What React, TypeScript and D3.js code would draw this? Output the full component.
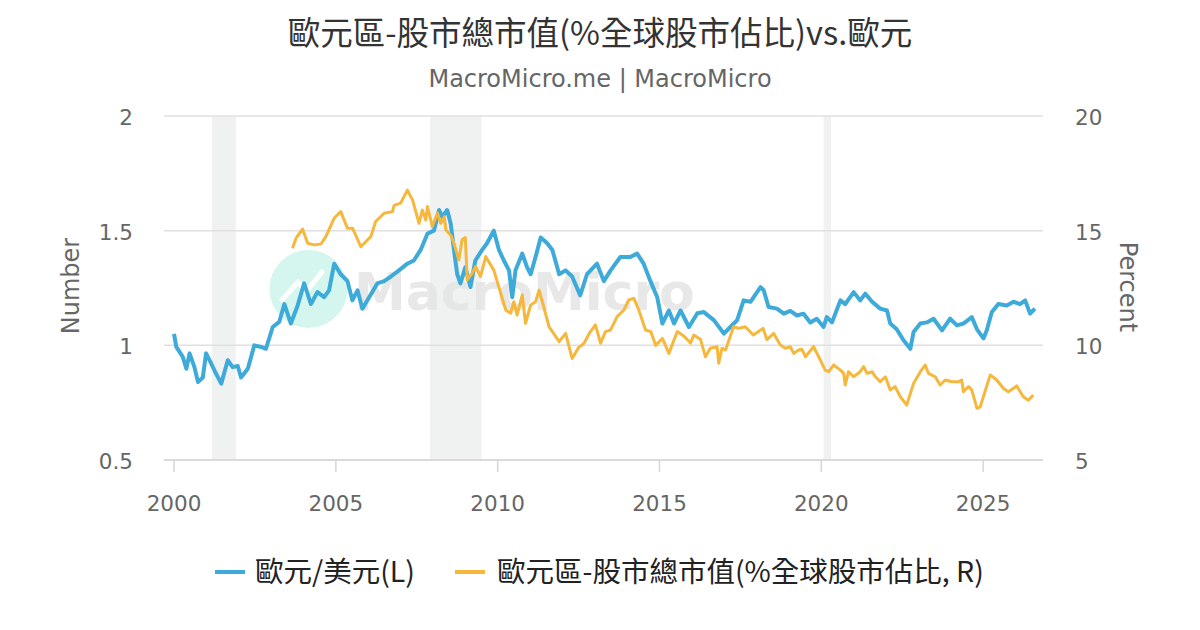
import React from "react";
import * as d3 from "d3";

const W = 1200, H = 630;
const M = { left: 164, right: 1043, top: 116, bottom: 460 };

const fxYears = [2000.0,2000.07,2000.27,2000.38,2000.48,2000.63,2000.74,2000.89,2000.99,2001.15,2001.3,2001.46,2001.66,2001.81,2001.97,2002.07,2002.28,2002.48,2002.69,2002.84,2003.05,2003.25,2003.41,2003.61,2003.82,2004.02,2004.23,2004.43,2004.64,2004.79,2004.95,2005.15,2005.36,2005.51,2005.67,2005.82,2006.03,2006.28,2006.49,2006.7,2006.95,2007.21,2007.41,2007.62,2007.83,2008.03,2008.19,2008.29,2008.44,2008.55,2008.65,2008.75,2008.85,2009.0,2009.16,2009.31,2009.52,2009.67,2009.88,2010.04,2010.19,2010.35,2010.45,2010.55,2010.76,2010.91,2011.02,2011.17,2011.33,2011.53,2011.69,2011.9,2012.1,2012.3,2012.55,2012.76,2013.07,2013.28,2013.49,2013.79,2014.1,2014.31,2014.51,2014.72,2014.93,2015.09,2015.29,2015.45,2015.65,2015.91,2016.17,2016.37,2016.68,2016.99,2017.19,2017.4,2017.6,2017.81,2018.12,2018.22,2018.37,2018.63,2018.84,2019.04,2019.25,2019.45,2019.66,2019.86,2020.07,2020.17,2020.33,2020.59,2020.74,2021.0,2021.2,2021.36,2021.57,2021.82,2022.03,2022.13,2022.33,2022.54,2022.75,2022.85,2023.06,2023.26,2023.47,2023.73,2023.98,2024.19,2024.39,2024.65,2024.81,2025.01,2025.11,2025.27,2025.47,2025.73,2025.94,2026.14,2026.3,2026.45,2026.6];
const fxValues = [1.05,0.993,0.95,0.898,0.965,0.905,0.84,0.86,0.965,0.92,0.876,0.833,0.935,0.905,0.91,0.86,0.898,1.0,0.993,0.985,1.08,1.102,1.18,1.095,1.174,1.27,1.18,1.232,1.21,1.24,1.356,1.31,1.28,1.196,1.24,1.16,1.21,1.27,1.28,1.3,1.327,1.356,1.37,1.416,1.487,1.5,1.59,1.56,1.59,1.53,1.416,1.31,1.27,1.34,1.254,1.37,1.416,1.445,1.5,1.416,1.37,1.327,1.21,1.327,1.4,1.34,1.31,1.385,1.47,1.445,1.416,1.31,1.327,1.3,1.218,1.31,1.356,1.28,1.327,1.385,1.385,1.4,1.356,1.28,1.21,1.095,1.152,1.095,1.152,1.08,1.14,1.145,1.11,1.051,1.08,1.11,1.196,1.19,1.254,1.24,1.167,1.16,1.138,1.15,1.13,1.138,1.1,1.116,1.08,1.123,1.1,1.196,1.18,1.232,1.196,1.225,1.19,1.16,1.152,1.095,1.07,1.022,0.985,1.058,1.095,1.1,1.116,1.065,1.116,1.087,1.095,1.123,1.07,1.03,1.065,1.145,1.18,1.174,1.19,1.18,1.196,1.138,1.16];

const mcYears = [2003.66,2003.77,2003.97,2004.13,2004.33,2004.54,2004.69,2004.95,2005.15,2005.36,2005.52,2005.77,2006.08,2006.23,2006.49,2006.75,2006.8,2007.0,2007.21,2007.37,2007.57,2007.67,2007.78,2007.83,2007.98,2008.14,2008.24,2008.35,2008.4,2008.55,2008.65,2008.8,2008.9,2009.0,2009.06,2009.21,2009.32,2009.47,2009.63,2009.88,2010.25,2010.4,2010.5,2010.6,2010.76,2010.86,2011.02,2011.17,2011.28,2011.38,2011.59,2011.69,2011.9,2012.1,2012.3,2012.5,2012.67,2012.83,2013.02,2013.18,2013.33,2013.49,2013.69,2013.9,2014.05,2014.21,2014.36,2014.57,2014.73,2014.88,2015.09,2015.29,2015.55,2015.76,2015.96,2016.06,2016.27,2016.42,2016.57,2016.78,2016.83,2016.93,2017.04,2017.29,2017.45,2017.65,2017.9,2018.2,2018.32,2018.53,2018.73,2018.89,2019.04,2019.15,2019.3,2019.4,2019.51,2019.76,2019.92,2020.12,2020.23,2020.38,2020.59,2020.69,2020.74,2020.84,2021.0,2021.2,2021.31,2021.41,2021.57,2021.67,2021.82,2021.98,2022.13,2022.28,2022.44,2022.64,2022.85,2023.06,2023.21,2023.31,2023.52,2023.67,2023.83,2024.03,2024.24,2024.34,2024.39,2024.55,2024.65,2024.81,2024.91,2025.22,2025.42,2025.63,2025.78,2026.04,2026.24,2026.4,2026.55];
const mcValues = [14.23,14.67,15.07,14.45,14.38,14.42,14.74,15.55,15.83,15.1,15.1,14.3,14.74,15.4,15.76,15.83,16.1,16.2,16.77,16.34,15.32,15.9,15.46,16.05,15.18,15.76,15.32,15.6,15.03,14.8,14.45,13.72,14.6,14.7,12.85,13.14,13.43,13.0,13.87,13.28,11.54,11.4,11.9,11.32,12.2,10.96,11.76,11.9,12.41,11.9,10.8,10.6,10.16,10.52,9.43,9.9,10.09,10.52,10.89,10.09,10.6,10.67,11.25,11.54,11.98,12.05,11.54,10.67,10.6,10.0,10.3,9.65,10.6,10.4,10.1,10.45,10.25,9.5,9.87,9.94,9.22,9.87,9.8,10.81,10.74,10.81,10.45,10.74,10.25,10.52,10.02,9.87,9.94,9.65,9.8,9.83,9.5,9.94,9.5,8.92,8.85,9.14,8.92,8.78,8.27,8.85,8.63,8.85,9.07,8.78,8.85,8.63,8.41,8.63,8.05,8.2,7.76,7.4,8.34,8.85,9.14,8.78,8.63,8.27,8.49,8.41,8.41,8.49,7.98,8.2,8.05,7.25,7.32,8.71,8.49,8.12,7.98,8.23,7.76,7.61,7.83];

const recessionStart = [2001.17, 2007.91, 2020.07];
const recessionEnd = [2001.91, 2009.5, 2020.3];

const xTicks = [2000, 2005, 2010, 2015, 2020, 2025];
const leftTicks = [0.5, 1, 1.5, 2];
const rightTicks = [5, 10, 15, 20];

const title = "歐元區-股市總市值(%全球股市佔比)vs.歐元";
const subtitle = "MacroMicro.me | MacroMicro";
const seriesNames = ["歐元/美元(L)", "歐元區-股市總市值(%全球股市佔比, R)"];
const colors = ["#3daad9", "#f5b83d"];

const CJK = "'Noto Sans CJK TC', 'Noto Sans', sans-serif";
const TICKF = "'DejaVu Sans', sans-serif";

export default function App() {
  const x = d3.scaleLinear().domain([1999.69, 2026.85]).range([M.left, M.right]);
  const yL = d3.scaleLinear().domain([0.5, 2]).range([M.bottom, M.top]);
  const yR = d3.scaleLinear().domain([5, 20]).range([M.bottom, M.top]);

  const fx = fxYears.map((t, i) => [t, fxValues[i]] as [number, number]);
  const mc = mcYears.map((t, i) => [t, mcValues[i]] as [number, number]);
  const lineL = d3.line<[number, number]>().x(d => x(d[0])).y(d => yL(d[1]));
  const lineR = d3.line<[number, number]>().x(d => x(d[0])).y(d => yR(d[1]));

  return (
    <svg width={W} height={H} style={{ display: "block", position: "absolute", left: 0, top: 0 }}>
      <rect width={W} height={H} fill="#fff" />
      <text x={600} y={45} textAnchor="middle" fontFamily={CJK} fontSize={32.5} fill="#333">{title}</text>
      <text x={600} y={87} textAnchor="middle" fontFamily={TICKF} fontSize={24} fill="#666">{subtitle}</text>

      {recessionStart.map((s, i) => (
        <rect key={i} x={x(s)} y={M.top} width={x(recessionEnd[i]) - x(s)} height={M.bottom - M.top} fill="#f0f2f2" />
      ))}

      {leftTicks.map((t) => (
        <line key={t} x1={M.left} x2={M.right} y1={yL(t)} y2={yL(t)} stroke="#e0e0e0" strokeWidth={1.5} />
      ))}
      <line x1={M.left} x2={M.right} y1={M.bottom} y2={M.bottom} stroke="#d6d6d6" strokeWidth={1.5} />
      {xTicks.map((t) => (
        <g key={t}>
          <line x1={x(t)} x2={x(t)} y1={M.bottom} y2={M.bottom + 12} stroke="#d6d6d6" strokeWidth={1.5} />
          <text x={x(t)} y={511} textAnchor="middle" fontFamily={TICKF} fontSize={21.5} fill="#666">{t}</text>
        </g>
      ))}
      {leftTicks.map((t) => (
        <text key={t} x={133} y={yL(t) + 9} textAnchor="end" fontFamily={TICKF} fontSize={21.5} fill="#666">{t}</text>
      ))}
      {rightTicks.map((t) => (
        <text key={t} x={1075} y={yR(t) + 9} textAnchor="start" fontFamily={TICKF} fontSize={21.5} fill="#666">{t}</text>
      ))}
      <text transform={`translate(79,${(M.top + M.bottom) / 2 - 2}) rotate(-90)`} textAnchor="middle" fontFamily={TICKF} fontSize={24} fill="#666">Number</text>
      <text transform={`translate(1120,${(M.top + M.bottom) / 2 - 1}) rotate(90)`} textAnchor="middle" fontFamily={TICKF} fontSize={24} fill="#666">Percent</text>

      <g>
        <circle cx={308.5} cy={289} r={39} fill="#d5f6ee" />
        <path d="M282,300 L298,282 L306,292 L322,272" fill="none" stroke="#fff" strokeWidth={5} strokeLinecap="round" strokeLinejoin="round" />
        <text x={354} y={310} fontFamily="'DejaVu Sans', sans-serif" fontWeight="bold" fontSize={52} fill="#e4e4e4" opacity={0.85}>MacroMicro</text>
      </g>

      <path d={lineL(fx) || ""} fill="none" stroke={colors[0]} strokeWidth={4} strokeLinejoin="round" />
      <path d={lineR(mc) || ""} fill="none" stroke={colors[1]} strokeWidth={3} strokeLinejoin="round" />

      <line x1={215} x2={245} y1={572} y2={572} stroke={colors[0]} strokeWidth={4} />
      <text x={255} y={582} fontFamily={CJK} fontSize={28.5} fill="#222">{seriesNames[0]}</text>
      <line x1={455} x2={485} y1={572} y2={572} stroke={colors[1]} strokeWidth={4} />
      <text x={497} y={582} fontFamily={CJK} fontSize={28.5} fill="#222">{seriesNames[1]}</text>
    </svg>
  );
}
